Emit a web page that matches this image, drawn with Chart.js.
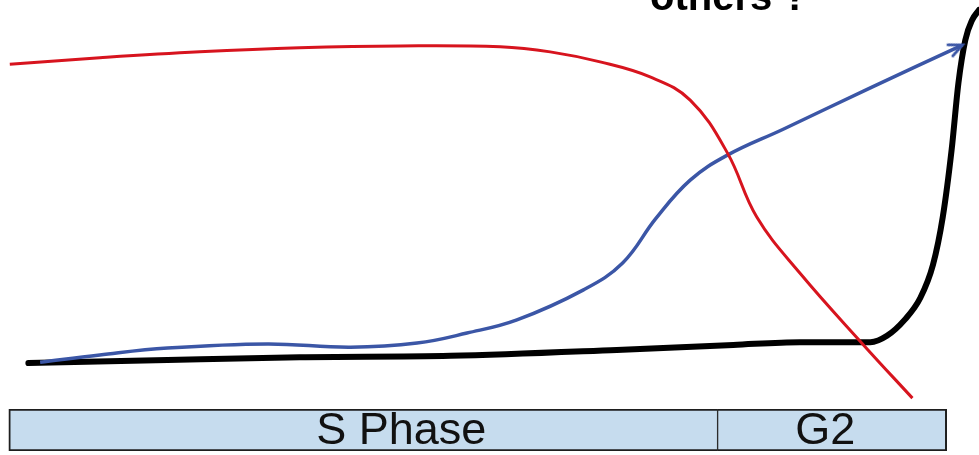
<!DOCTYPE html>
<html>
<head>
<meta charset="utf-8">
<script src="https://cdn.jsdelivr.net/npm/chart.js@4.4.1/dist/chart.umd.min.js"></script>
<style>
  html, body { margin: 0; padding: 0; background: #fff; }
  #stage { position: relative; width: 979px; height: 455px; overflow: hidden; }
  #curves-box { position: absolute; left: 0; top: 0; width: 979px; height: 455px; }
  #phase-box { position: absolute; left: 0; top: 409px; width: 979px; height: 42px; }
</style>
</head>
<body>
<div id="stage">
  <div id="phase-box"><canvas id="phases"></canvas></div>
  <div id="curves-box"><canvas id="curves"></canvas></div>
</div>
<script>
// time runs 0..100 across the page, level 0..100 bottom to top
var redTime   = [1.0, 10.2, 20.4, 30.6, 40.9, 51.1, 56.2, 61.3, 66.4, 70.5, 74.3, 77.3, 81.7, 88.2, 93.2];
var redLevel  = [85.9, 87.3, 88.6, 89.5, 89.9, 89.7, 88.6, 86.4, 83.1, 78.0, 66.4, 52.3, 40.0, 24.2, 12.5];

var blueTime  = [4.1, 10.2, 17.1, 27.3, 35.8, 42.6, 47.7, 52.8, 59.6, 63.6, 67.0, 70.5, 74.3, 80.0, 88.9, 98.3];
var blueLevel = [20.4, 22.0, 23.5, 24.4, 23.7, 24.6, 26.8, 29.7, 36.3, 42.2, 52.0, 60.4, 65.9, 71.6, 80.7, 90.1];

var blackTime  = [2.9, 17.1, 30.6, 46.0, 63.0, 74.9, 81.7, 88.9, 90.6, 92.4, 94.0, 95.3, 96.3, 97.2, 97.9, 98.6, 99.3, 100];
var blackLevel = [20.2, 20.9, 21.5, 21.8, 23.1, 24.2, 24.8, 24.8, 26.2, 29.7, 34.5, 41.8, 52.3, 67.0, 81.8, 91.2, 95.6, 97.8];

// phase bar along the same time axis
var phaseLabels = ['S Phase', 'G2'];
var phaseStart  = [0.9, 73.3];
var phaseEnd    = [73.3, 96.7];

var topNote = 'others ?';

function toPoints(xs, ys) {
  return xs.map(function (x, i) { return { x: x, y: ys[i] }; });
}

// open arrow head for the end of the blue curve
var arrowHead = document.createElement('canvas');
arrowHead.width = 40;
arrowHead.height = 40;
(function () {
  var c = arrowHead.getContext('2d');
  c.strokeStyle = '#3b56a6';
  c.lineWidth = 3;
  c.lineCap = 'round';
  c.beginPath();
  c.moveTo(7, 14);
  c.lineTo(20, 20);
  c.lineTo(7, 26);
  c.stroke();
})();

var notePlugin = {
  id: 'note',
  afterDraw: function (chart) {
    var ctx = chart.ctx;
    ctx.save();
    ctx.font = 'bold 40px "Liberation Sans", Arial, sans-serif';
    ctx.fillStyle = '#000';
    ctx.textBaseline = 'alphabetic';
    ctx.fillText(topNote, 650, 10);
    ctx.restore();
  }
};

var lastBlue = blueTime.length - 1;

var curves = new Chart(document.getElementById('curves'), {
  type: 'line',
  data: {
    datasets: [{
      label: 'red',
      data: toPoints(redTime, redLevel),
      borderColor: '#d7141e',
      borderWidth: 3,
      pointRadius: 0,
      tension: 0.4
    }, {
      label: 'blue',
      data: toPoints(blueTime, blueLevel),
      borderColor: '#3b56a6',
      borderWidth: 3.5,
      tension: 0.4,
      pointStyle: arrowHead,
      rotation: -24,
      pointRadius: function (ctx) { return ctx.dataIndex === lastBlue ? 8 : 0; }
    }, {
      label: 'black',
      data: toPoints(blackTime, blackLevel),
      borderColor: '#000',
      borderWidth: 6,
      borderCapStyle: 'round',
      pointRadius: 0,
      cubicInterpolationMode: 'monotone'
    }]
  },
  options: {
    responsive: true,
    maintainAspectRatio: false,
    animation: false,
    events: [],
    clip: false,
    layout: { padding: 0, autoPadding: false },
    plugins: { legend: { display: false }, tooltip: { enabled: false } },
    scales: {
      x: { type: 'linear', min: 0, max: 100, display: false },
      y: { type: 'linear', min: 0, max: 100, display: false }
    }
  },
  plugins: [notePlugin]
});

var phaseText = {
  id: 'phaseText',
  afterDatasetsDraw: function (chart, args, opts) {
    var ctx = chart.ctx;
    ctx.save();
    ctx.font = '45px "Liberation Sans", Arial, sans-serif';
    ctx.fillStyle = '#111';
    ctx.textAlign = 'center';
    ctx.textBaseline = 'middle';
    chart.data.datasets.forEach(function (ds, i) {
      var bar = chart.getDatasetMeta(i).data[0];
      var cx = (bar.x + bar.base) / 2 + opts.shift[i];
      ctx.fillText(ds.label, cx, bar.y + 2);
    });
    ctx.restore();
  }
};

var phases = new Chart(document.getElementById('phases'), {
  type: 'bar',
  data: {
    labels: ['cycle'],
    datasets: phaseLabels.map(function (name, i) {
      return {
        label: name,
        data: [[phaseStart[i], phaseEnd[i]]],
        backgroundColor: '#c6dcee',
        borderColor: '#1e1e1e',
        borderSkipped: false,
        borderWidth: i === 0
          ? { top: 2, bottom: 2, left: 2, right: 1 }
          : { top: 2, bottom: 2, left: 1, right: 2 },
        grouped: false,
        barPercentage: 1,
        categoryPercentage: 1
      };
    })
  },
  options: {
    indexAxis: 'y',
    responsive: true,
    maintainAspectRatio: false,
    animation: false,
    events: [],
    layout: { padding: 0, autoPadding: false },
    plugins: {
      legend: { display: false },
      tooltip: { enabled: false },
      phaseText: { shift: [38, -7] }
    },
    scales: {
      x: { type: 'linear', min: 0, max: 100, display: false },
      y: { display: false }
    }
  },
  plugins: [phaseText]
});
</script>
</body>
</html>
